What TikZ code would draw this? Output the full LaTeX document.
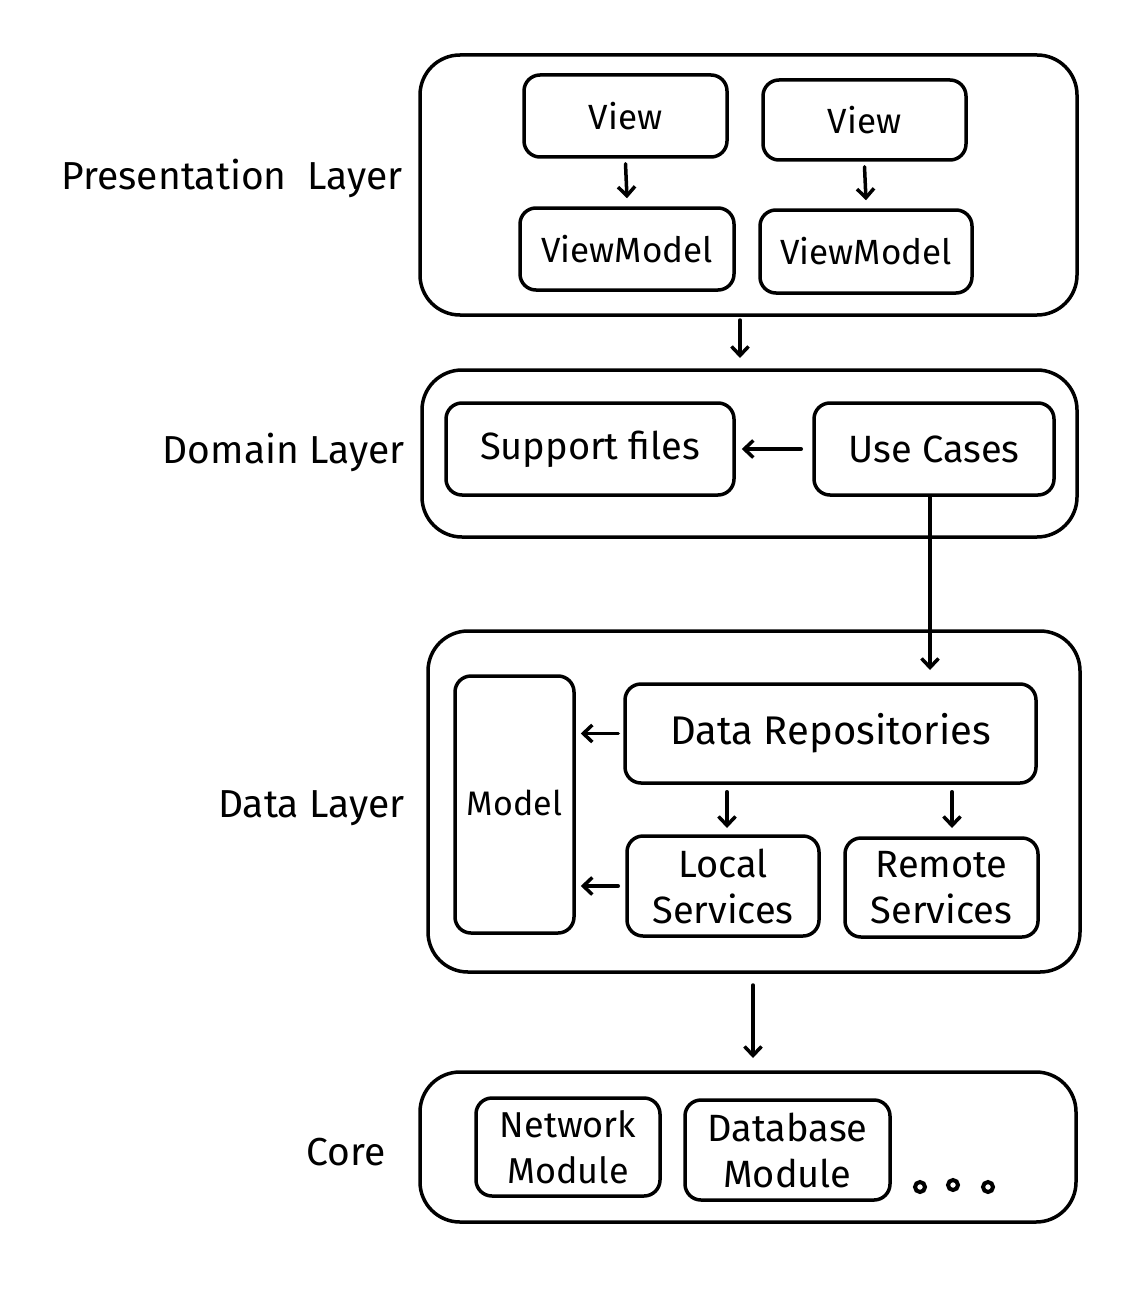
\documentclass[tikz,border=0pt]{standalone}
\usepackage{fontspec}
\setmainfont{Fira Sans}
\usetikzlibrary{arrows.meta}
\newcommand{\fsz}[1]{\fontsize{#1}{46}\selectfont}
\begin{document}
\begin{tikzpicture}[x=1pt,y=-1pt,
  outer/.style={draw,line width=3.5pt,rounded corners=40pt},
  inner/.style={draw,line width=3.5pt,rounded corners=16pt,font=\fsz{38},align=center},
  lbl/.style={font=\fsz{39},anchor=east},
  conn/.style={line width=3.5pt,line cap=round,-{Straight Barb[length=9pt,width=17pt,line width=3.5pt]}},
  dot/.style={draw,circle,line width=4pt,minimum size=10pt,inner sep=0pt}]
\useasboundingbox (0,0) rectangle (1142,1292);
% outer layer boxes
\draw[outer] (420,55) rectangle (1077,315);
\draw[outer] (422,370) rectangle (1077,537);
\draw[outer] (428,631) rectangle (1080,972);
\draw[outer] (420,1072) rectangle (1076,1222);
% layer labels
\node[lbl] (lp) at (406,178) {Presentation\ \ Layer};
\node[lbl] (ld) at (408,452) {Domain Layer};
\node[lbl] (lda) at (408,808) {Data Layer};
\node[lbl] (lc) at (389,1152) {Core};
% coordinates for layer boundaries
\coordinate (pbot) at (740,320);
\coordinate (dtop) at (740,358);
\coordinate (dabot) at (753,985);
\coordinate (ctop) at (753,1058);
% presentation
\node[inner,font=\fsz{35},minimum width=203pt,minimum height=82pt] (v1) at (625.5,116) {View};
\node[inner,font=\fsz{35},minimum width=203pt,minimum height=80pt] (v2) at (864.5,120) {View};
\node[inner,font=\fsz{35},minimum width=214pt,minimum height=82pt] (vm1) at (627,249) {ViewModel};
\node[inner,font=\fsz{35},minimum width=212pt,minimum height=83pt] (vm2) at (866,251.5) {ViewModel};
% domain
\node[inner,minimum width=288pt,minimum height=92pt] (sf) at (590,449) {Support files};
\node[inner,minimum width=240pt,minimum height=92pt] (uc) at (934,449) {Use Cases};
% data
\node[inner,minimum width=119pt,minimum height=257pt] (model) at (514.5,804.5) {};
\node[font=\fsz{34}] (modeltxt) at (514.5,803) {Model};
\node[inner,font=\fsz{40},minimum width=411pt,minimum height=99pt] (dr) at (830.5,733.5) {Data Repositories};
\node[inner,minimum width=192pt,minimum height=100pt] (ls) at (723,886) {Local\\Services};
\node[inner,minimum width=193pt,minimum height=99pt] (rs) at (941.5,887.5) {Remote\\Services};
% core
\node[inner,font=\fsz{36},minimum width=184pt,minimum height=98pt] (nm) at (568,1147) {Network\\Module};
\node[inner,minimum width=205pt,minimum height=100pt] (dm) at (787.5,1150) {Database\\Module};
\node[dot] (d1) at (920,1187) {};
\node[dot] (d2) at (953,1185) {};
\node[dot] (d3) at (988,1187) {};
% connectors
\draw[conn] ([yshift=-5pt]v1.south) -- ([yshift=8pt]vm1.north);
\draw[conn] ([yshift=-5pt]v2.south) -- ([yshift=8pt]vm2.north);
\draw[conn] (pbot) -- (dtop);
\draw[conn] ([xshift=-11pt]uc.west) -- ([xshift=6pt]sf.east);
\draw[conn] (uc.south -| 930,0) -- (930,670);
\draw[conn] ([xshift=-5pt]dr.west) -- ([xshift=5pt]model.east |- dr.west);
\draw[conn] ([xshift=-7pt]ls.west) -- ([xshift=5pt]model.east |- ls.west);
\draw[conn] (dr.south -| 727,0) ++(0,7) -- (727,828);
\draw[conn] (dr.south -| 952,0) ++(0,7) -- (952,828);
\draw[conn] (dabot) -- (ctop);
\end{tikzpicture}
\end{document}
